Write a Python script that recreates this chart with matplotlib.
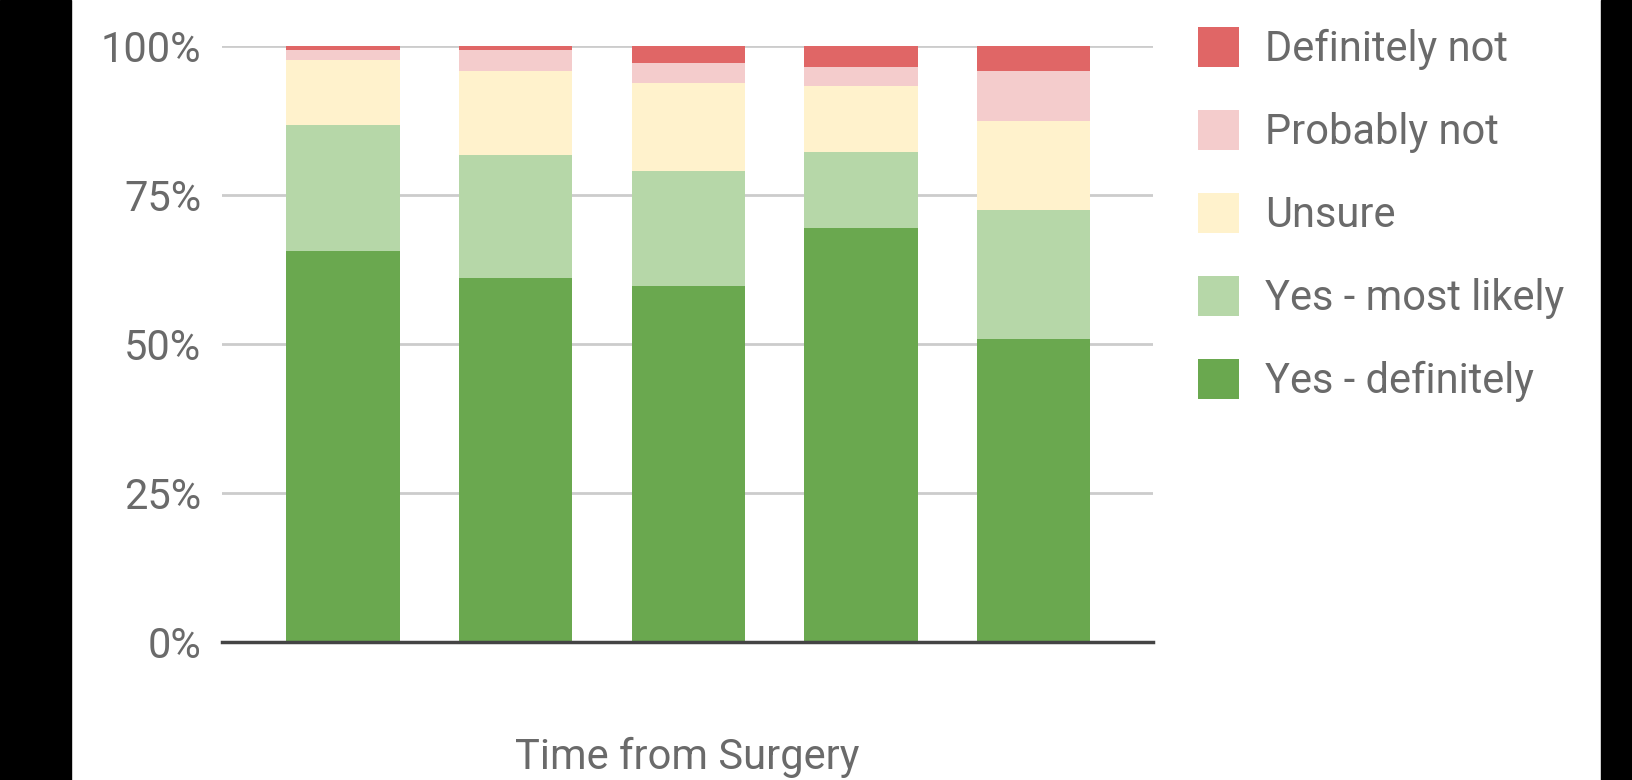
import numpy as np
import matplotlib.pyplot as plt
from matplotlib.patches import Rectangle

# Share of answers per time point (percent), bottom to top of each stack
periods = ['T1', 'T2', 'T3', 'T4', 'T5']
answers = ['Yes - definitely', 'Yes - most likely', 'Unsure', 'Probably not', 'Definitely not']
yes_definitely = [65.6, 61.1, 59.7, 69.4, 50.9]
yes_most_likely = [21.1, 20.6, 19.3, 12.8, 21.6]
unsure = [10.9, 14.0, 14.7, 11.0, 14.9]
probably_not = [1.7, 3.6, 3.4, 3.3, 8.3]
definitely_not = [0.7, 0.7, 2.9, 3.5, 4.3]
colors = ['#6aa84f', '#b6d7a8', '#fff2cc', '#f4cccc', '#e06666']

plt.rcParams['font.family'] = ['Roboto', 'DejaVu Sans']
txtcol = '#6a6a6a'

fig = plt.figure(figsize=(16.32, 7.8), dpi=100)
# black frame strips at both sides
fig.patches.append(Rectangle((0, 0), 71/1632, 1, transform=fig.transFigure, color='black', zorder=0))
fig.patches.append(Rectangle((1601/1632, 0), 31/1632, 1, transform=fig.transFigure, color='black', zorder=0))

ax = fig.add_axes([222/1632, 1-642/780, (1153-222)/1632, (642-45.8)/780])

series = [yes_definitely, yes_most_likely, unsure, probably_not, definitely_not]
x = np.arange(len(periods))
bottom = np.zeros(len(periods))
handles = []
for vals, col, name in zip(series, colors, answers):
    b = ax.bar(x, vals, width=0.656, bottom=bottom, color=col, label=name, zorder=2, linewidth=0)
    handles.append(b)
    bottom += np.array(vals)

ax.set_xlim(-0.7, 4.69)
ax.set_ylim(0, 100)
ax.set_yticks([0, 25, 50, 75, 100])
ax.set_yticklabels(['0%', '25%', '50%', '75%', '100%'])
ax.set_xticks([])
ax.tick_params(axis='y', length=0, pad=15, labelsize=30, labelcolor=txtcol)
ax.grid(axis='y', color='#cccccc', linewidth=2, zorder=0)
for s in ['top', 'right', 'left']:
    ax.spines[s].set_visible(False)
ax.spines['bottom'].set_color('#444444')
ax.spines['bottom'].set_linewidth(2.5)
ax.spines['bottom'].set_zorder(3)

ax.set_xlabel('Time from Surgery', fontsize=30, color=txtcol, labelpad=68)

leg = fig.legend(handles[::-1], answers[::-1], loc='upper left',
                 bbox_to_anchor=(1181/1632, 1-10/780), frameon=False,
                 fontsize=30, labelcolor=txtcol, handlelength=1.0, handleheight=1.1,
                 handletextpad=0.62, labelspacing=0.96, borderaxespad=0)

fig.savefig('out.png', dpi=100, facecolor='white')
